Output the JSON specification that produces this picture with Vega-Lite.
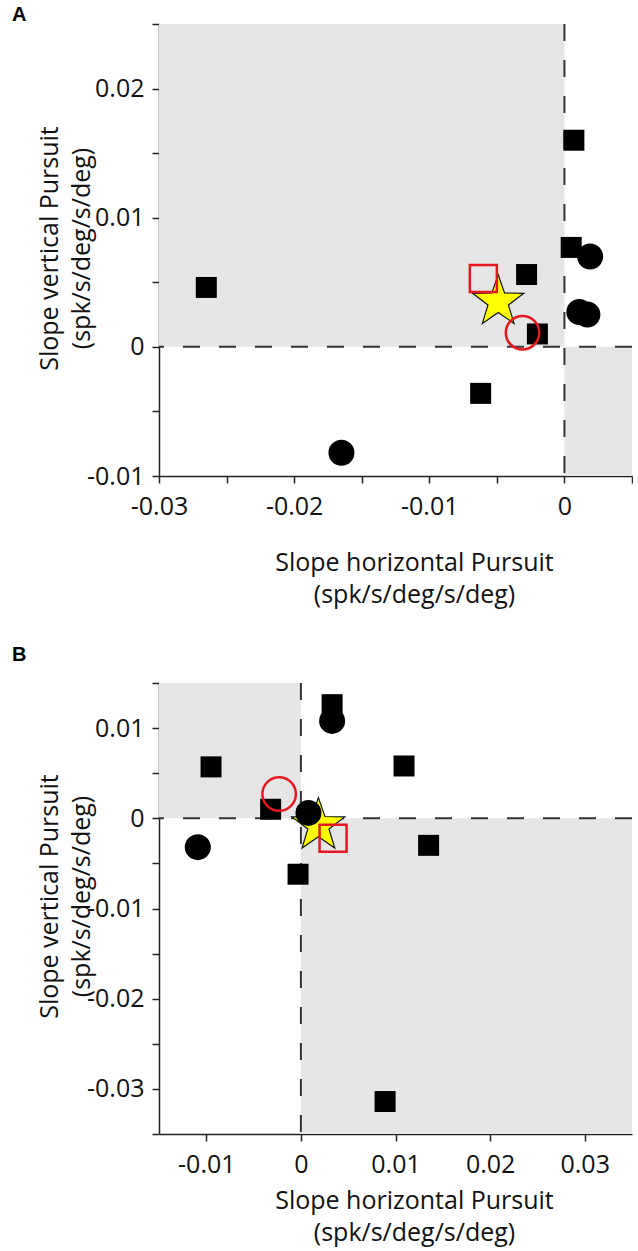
{
  "$schema": "https://vega.github.io/schema/vega-lite/v6.json",
  "padding": {"left": 12, "top": 5, "right": 0, "bottom": 6},
  "background": "white",
  "spacing": 207,
  "bounds": "flush",
  "config": {
    "view": {"stroke": null},
    "font": "Open Sans",
    "axis": {
      "grid": false,
      "domainColor": "#222",
      "domainWidth": 1.5,
      "tickColor": "#222",
      "tickWidth": 1.5,
      "tickSize": 7,
      "labelFont": "Open Sans",
      "labelFontSize": 25,
      "labelColor": "#111",
      "labelFlush": false,
      "labelOverlap": false,
      "titleFont": "Open Sans",
      "titleFontSize": 25,
      "titleFontWeight": "normal",
      "titleColor": "#111",
      "titleLineHeight": 32
    },
    "axisX": {"labelPadding": 11},
    "axisY": {"labelPadding": 8}
  },
  "datasets": {
    "a": [
      {"x": -0.0265, "y": 0.0046, "t": "sq"},
      {"x": 0.0007, "y": 0.0160, "t": "sq"},
      {"x": 0.0005, "y": 0.0077, "t": "sq"},
      {"x": -0.0028, "y": 0.0056, "t": "sq"},
      {"x": -0.0020, "y": 0.0010, "t": "sq"},
      {"x": -0.0062, "y": -0.0036, "t": "sq"},
      {"x": -0.0165, "y": -0.0082, "t": "ci"},
      {"x": 0.0019, "y": 0.0070, "t": "ci"},
      {"x": 0.0011, "y": 0.0027, "t": "ci"},
      {"x": 0.0017, "y": 0.0025, "t": "ci"},
      {"x": -0.0049, "y": 0.0035, "t": "star"},
      {"x": -0.0060, "y": 0.0053, "t": "rsq"},
      {"x": -0.0031, "y": 0.0011, "t": "rci"}
    ],
    "b": [
      {"x": 0.0033, "y": 0.0126, "t": "sq"},
      {"x": -0.0095, "y": 0.0057, "t": "sq"},
      {"x": -0.0032, "y": 0.0010, "t": "sq"},
      {"x": -0.0003, "y": -0.0062, "t": "sq"},
      {"x": 0.0109, "y": 0.0058, "t": "sq"},
      {"x": 0.0135, "y": -0.0030, "t": "sq"},
      {"x": 0.0089, "y": -0.0314, "t": "sq"},
      {"x": 0.0033, "y": 0.0108, "t": "ci"},
      {"x": 0.0008, "y": 0.0006, "t": "ci"},
      {"x": -0.0109, "y": -0.0032, "t": "ci"},
      {"x": 0.00185, "y": -0.0008, "t": "star"},
      {"x": 0.0034, "y": -0.0022, "t": "rsq"},
      {"x": -0.0023, "y": 0.0027, "t": "rci"}
    ],
    "qa": [
      {"x1": -0.03, "x2": 0, "y1": 0, "y2": 0.025},
      {"x1": 0, "x2": 0.005, "y1": -0.01, "y2": 0}
    ],
    "qb": [
      {"x1": -0.015, "x2": 0, "y1": 0, "y2": 0.015},
      {"x1": 0, "x2": 0.035, "y1": -0.035, "y2": 0}
    ],
    "zero": [{"v": 0}]
  },
  "resolve": {"scale": {"x": "independent", "y": "independent"}},
  "vconcat": [
    {
      "width": 473,
      "height": 452,
      "title": {"text": "A", "anchor": "start", "frame": "group", "font": "Liberation Sans", "fontSize": 20, "fontWeight": "bold", "color": "#000", "dx": -147, "offset": -29, "baseline": "alphabetic"},
      "encoding": {
        "x": {"type": "quantitative", "scale": {"domain": [-0.03, 0.005], "nice": false, "zero": false},
          "axis": {"values": [-0.03, -0.025, -0.02, -0.015, -0.01, -0.005, 0, 0.005],
            "labelExpr": "abs(datum.value*100 - round(datum.value*100)) < 0.01 ? '' + round(datum.value*100)/100 : ''",
            "title": ["Slope horizontal Pursuit", "(spk/s/deg/s/deg)"], "titleX": 255, "titleY": 94, "titleBaseline": "alphabetic"}},
        "y": {"type": "quantitative", "scale": {"domain": [-0.01, 0.025], "nice": false, "zero": false},
          "axis": {"values": [-0.01, -0.005, 0, 0.005, 0.01, 0.015, 0.02, 0.025],
            "labelExpr": "abs(datum.value*100 - round(datum.value*100)) < 0.01 ? '' + round(datum.value*100)/100 : ''",
            "title": ["Slope vertical Pursuit", "(spk/s/deg/s/deg)"], "titleX": -102, "titleY": 224, "titleBaseline": "alphabetic"}}
      },
      "layer": [
        {"data": {"name": "qa"}, "mark": {"type": "rect", "color": "#e6e6e6"},
          "encoding": {"x": {"field": "x1"}, "x2": {"field": "x2"}, "y": {"field": "y1"}, "y2": {"field": "y2"}}},
        {"data": {"name": "zero"}, "mark": {"type": "rule", "strokeDash": [17, 19], "strokeWidth": 2, "color": "#333"}, "encoding": {"x": {"field": "v"}}},
        {"data": {"name": "zero"}, "mark": {"type": "rule", "strokeDash": [17, 19], "strokeWidth": 2, "color": "#333"}, "encoding": {"y": {"field": "v"}}},
        {"data": {"name": "a"}, "transform": [{"filter": "datum.t == 'star'"}],
          "mark": {"type": "point", "shape": "M0,-1L0.235,-0.324L0.951,-0.309L0.380,0.124L0.588,0.809L0,0.4L-0.588,0.809L-0.380,0.124L-0.951,-0.309L-0.235,-0.324Z", "filled": true, "fill": "#ffff00", "stroke": "#111", "strokeWidth": 1.2, "size": 2900, "opacity": 1},
          "encoding": {"x": {"field": "x"}, "y": {"field": "y"}}},
        {"data": {"name": "a"}, "transform": [{"filter": "datum.t == 'sq'"}],
          "mark": {"type": "point", "shape": "square", "filled": true, "color": "#000", "size": 441, "opacity": 1},
          "encoding": {"x": {"field": "x"}, "y": {"field": "y"}}},
        {"data": {"name": "a"}, "transform": [{"filter": "datum.t == 'ci'"}],
          "mark": {"type": "point", "shape": "circle", "filled": true, "color": "#000", "size": 676, "opacity": 1},
          "encoding": {"x": {"field": "x"}, "y": {"field": "y"}}},
        {"data": {"name": "a"}, "transform": [{"filter": "datum.t == 'rsq'"}],
          "mark": {"type": "point", "shape": "square", "filled": false, "stroke": "#e3191f", "strokeWidth": 2.5, "size": 729, "opacity": 1},
          "encoding": {"x": {"field": "x"}, "y": {"field": "y"}}},
        {"data": {"name": "a"}, "transform": [{"filter": "datum.t == 'rci'"}],
          "mark": {"type": "point", "shape": "circle", "filled": false, "stroke": "#e3191f", "strokeWidth": 2.5, "size": 1122, "opacity": 1},
          "encoding": {"x": {"field": "x"}, "y": {"field": "y"}}}
      ]
    },
    {
      "width": 473,
      "height": 451,
      "title": {"text": "B", "anchor": "start", "frame": "group", "font": "Liberation Sans", "fontSize": 20, "fontWeight": "bold", "color": "#000", "dx": -147, "offset": -10, "baseline": "alphabetic"},
      "encoding": {
        "x": {"type": "quantitative", "scale": {"domain": [-0.015, 0.035], "nice": false, "zero": false},
          "axis": {"values": [-0.01, 0, 0.01, 0.02, 0.03],
            "labelExpr": "'' + round(datum.value*100)/100",
            "title": ["Slope horizontal Pursuit", "(spk/s/deg/s/deg)"], "titleX": 255, "titleY": 74, "titleBaseline": "alphabetic"}},
        "y": {"type": "quantitative", "scale": {"domain": [-0.035, 0.015], "nice": false, "zero": false},
          "axis": {"values": [-0.035, -0.03, -0.025, -0.02, -0.015, -0.01, -0.005, 0, 0.005, 0.01, 0.015],
            "labelExpr": "abs(datum.value*100 - round(datum.value*100)) < 0.01 ? '' + round(datum.value*100)/100 : ''",
            "title": ["Slope vertical Pursuit", "(spk/s/deg/s/deg)"], "titleX": -102, "titleY": 213, "titleBaseline": "alphabetic"}}
      },
      "layer": [
        {"data": {"name": "qb"}, "mark": {"type": "rect", "color": "#e6e6e6"},
          "encoding": {"x": {"field": "x1"}, "x2": {"field": "x2"}, "y": {"field": "y1"}, "y2": {"field": "y2"}}},
        {"data": {"name": "zero"}, "mark": {"type": "rule", "strokeDash": [17, 19], "strokeWidth": 2, "color": "#333"}, "encoding": {"x": {"field": "v"}}},
        {"data": {"name": "zero"}, "mark": {"type": "rule", "strokeDash": [17, 19], "strokeWidth": 2, "color": "#333"}, "encoding": {"y": {"field": "v"}}},
        {"data": {"name": "b"}, "transform": [{"filter": "datum.t == 'star'"}],
          "mark": {"type": "point", "shape": "M0,-1L0.235,-0.324L0.951,-0.309L0.380,0.124L0.588,0.809L0,0.4L-0.588,0.809L-0.380,0.124L-0.951,-0.309L-0.235,-0.324Z", "filled": true, "fill": "#ffff00", "stroke": "#111", "strokeWidth": 1.2, "size": 3100, "opacity": 1},
          "encoding": {"x": {"field": "x"}, "y": {"field": "y"}}},
        {"data": {"name": "b"}, "transform": [{"filter": "datum.t == 'sq'"}],
          "mark": {"type": "point", "shape": "square", "filled": true, "color": "#000", "size": 441, "opacity": 1},
          "encoding": {"x": {"field": "x"}, "y": {"field": "y"}}},
        {"data": {"name": "b"}, "transform": [{"filter": "datum.t == 'ci'"}],
          "mark": {"type": "point", "shape": "circle", "filled": true, "color": "#000", "size": 676, "opacity": 1},
          "encoding": {"x": {"field": "x"}, "y": {"field": "y"}}},
        {"data": {"name": "b"}, "transform": [{"filter": "datum.t == 'rsq'"}],
          "mark": {"type": "point", "shape": "square", "filled": false, "stroke": "#e3191f", "strokeWidth": 2.5, "size": 729, "opacity": 1},
          "encoding": {"x": {"field": "x"}, "y": {"field": "y"}}},
        {"data": {"name": "b"}, "transform": [{"filter": "datum.t == 'rci'"}],
          "mark": {"type": "point", "shape": "circle", "filled": false, "stroke": "#e3191f", "strokeWidth": 2.5, "size": 1122, "opacity": 1},
          "encoding": {"x": {"field": "x"}, "y": {"field": "y"}}}
      ]
    }
  ]
}
